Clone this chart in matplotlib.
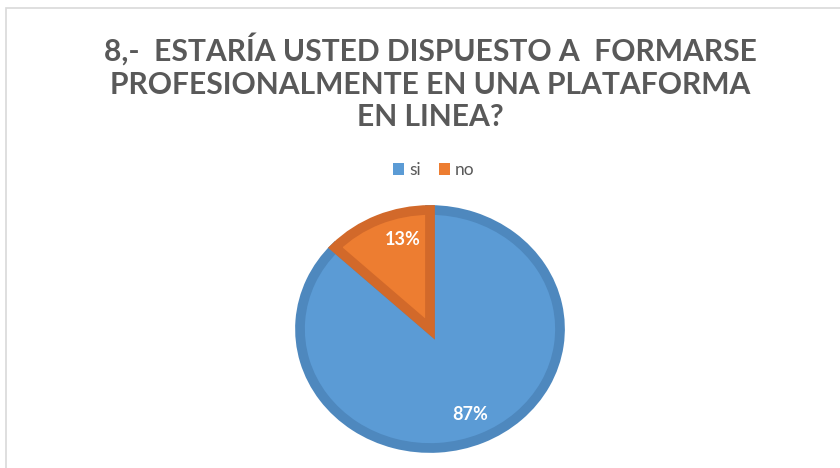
import matplotlib
matplotlib.use('Agg')
import matplotlib.pyplot as plt
from matplotlib.patches import Patch, Rectangle

# datos
etiquetas = ['si', 'no']
valores = [87, 13]
colores = ['#5B9BD5', '#ED7D31']
bordes = ['#4E88BE', '#D2692A']
titulo = '8,-  ESTARÍA USTED DISPUESTO A  FORMARSE\nPROFESIONALMENTE EN UNA PLATAFORMA\nEN LINEA?'

plt.rcParams['font.family'] = ['Lato', 'DejaVu Sans']

fig = plt.figure(figsize=(8.4, 4.68), dpi=100)

# marco del grafico (como en Excel)
fig.patches.append(Rectangle((6/840, -0.1), 1.0, 1.1 - 8/468, transform=fig.transFigure,
                             fill=False, edgecolor='#D9D9D9', linewidth=1.2))

t = fig.text(0.512, 1 - 33/468, titulo, ha='center', va='top', fontsize=20,
             fontweight='bold', color='#595959', linespacing=1.2)
# ajustar el tamano para que la primera linea mida ~654 px
r = fig.canvas.get_renderer()
ancho = t.get_window_extent(r).width
t.set_fontsize(20 * 654 / ancho)

ax = fig.add_axes([300/840, 1 - 448/468, 260/840, 238/468])
wedges, texts, autotexts = ax.pie(valores, colors=colores, startangle=90, counterclock=False,
                                  autopct='%1.0f%%', pctdistance=0.78, radius=1.0,
                                  textprops={'color': 'white', 'fontsize': 13, 'fontweight': 'bold'})
for w, c in zip(wedges, bordes):
    w.set_edgecolor(c)
    w.set_linewidth(7)
    w.set_clip_path(w)
ax.set_aspect('auto')
ax.set_xlim(-1, 1)
ax.set_ylim(-1, 1)

# ajuste de la etiqueta pequena
autotexts[1].set_position((-0.21, 0.75))

handles = [Patch(facecolor=c, edgecolor='none') for c in colores]
fig.legend(handles, etiquetas, loc='center', bbox_to_anchor=(434/840, 1 - 170/468), ncol=2,
           frameon=False, fontsize=12.5, handlelength=0.65, handleheight=0.65,
           handletextpad=0.3, columnspacing=1.0, labelcolor='#595959')

fig.savefig('out.png', dpi=100)
